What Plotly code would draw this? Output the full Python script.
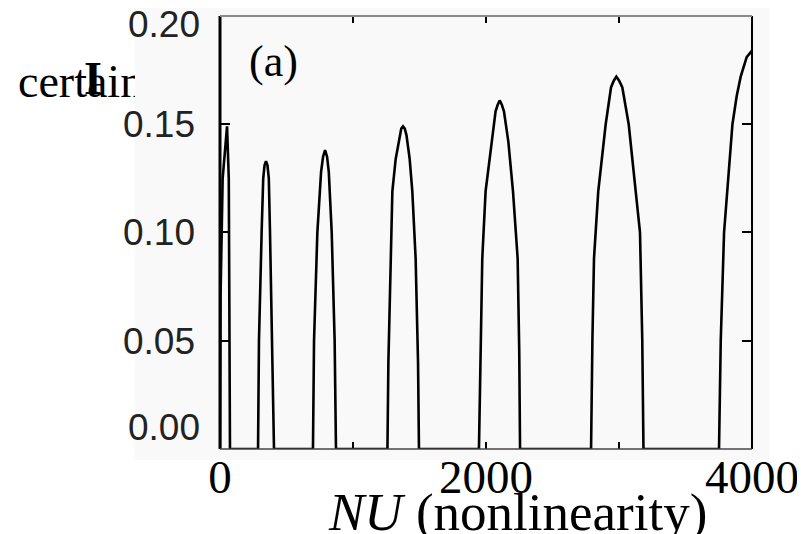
import plotly.graph_objects as go

# ---- data ----
nu = [0, 4, 20, 53, 66, 72, 75,
      286, 293, 313, 325, 335, 346, 357, 367, 376, 393, 406,
      699, 707, 732, 760, 775, 790, 805, 818, 840, 862, 872,
      1259, 1266, 1283, 1296, 1321, 1350, 1363, 1376, 1389, 1402, 1426, 1446, 1471, 1489, 1496,
      1947, 1960, 1972, 1997, 2042, 2072, 2088, 2103, 2119, 2135, 2168, 2203, 2238, 2250, 2256,
      2790, 2800, 2812, 2844, 2900, 2940, 2960, 2980, 3002, 3025, 3073, 3158, 3175, 3184,
      3752, 3765, 3790, 3853, 3885, 3915, 3960, 4000]
amp = [0.0, 0.07, 0.125, 0.149, 0.125, 0.07, 0.0,
       0.0, 0.05, 0.10, 0.125, 0.131, 0.133, 0.131, 0.125, 0.10, 0.05, 0.0,
       0.0, 0.05, 0.10, 0.128, 0.135, 0.138, 0.135, 0.128, 0.10, 0.05, 0.0,
       0.0, 0.04, 0.088, 0.119, 0.134, 0.145, 0.148, 0.149, 0.148, 0.145, 0.134, 0.119, 0.088, 0.04, 0.0,
       0.0, 0.05, 0.088, 0.119, 0.142, 0.156, 0.159, 0.161, 0.159, 0.156, 0.142, 0.119, 0.088, 0.045, 0.0,
       0.0, 0.05, 0.088, 0.119, 0.150, 0.167, 0.170, 0.172, 0.170, 0.167, 0.150, 0.10, 0.05, 0.0,
       0.0, 0.05, 0.10, 0.15, 0.163, 0.172, 0.181, 0.184]

x_ticks = [0, 1000, 2000, 3000, 4000]
x_tick_labels = ["0", "", "2000", "", "4000"]
y_ticks = [0.0, 0.05, 0.10, 0.15, 0.20]
y_tick_labels = ["0.00", "0.05", "0.10", "0.15", "0.20"]
x_title = "<i>NU</i> (nonlinearity)"
panel_label = "(a)"
side_text = "certain"
side_mark = "<b>I</b>"

PANEL = "#f9f9f9"
SERIF = "Liberation Serif"
SANS = "Liberation Sans"

fig = go.Figure()
fig.add_trace(go.Scatter(
    x=nu, y=amp, mode="lines",
    line=dict(color="black", width=2.6),
    hoverinfo="skip", showlegend=False))
# word lying partly under the scanned panel (small helper subplot in the left margin)
fig.add_trace(go.Scatter(
    x=[10], y=[29.5], mode="text", text=[side_text],
    textposition="middle right", cliponaxis=False,
    textfont=dict(family=SERIF, size=46, color="black"),
    xaxis="x2", yaxis="y2", hoverinfo="skip", showlegend=False))

ylab_font = dict(family=SANS, size=37, color="#222")
mid_labels = [t if 0 < i < len(y_tick_labels) - 1 else "" for i, t in enumerate(y_tick_labels)]

fig.update_layout(
    width=805, height=534,
    margin=dict(l=0, r=0, t=0, b=0),
    paper_bgcolor="white", plot_bgcolor="rgba(0,0,0,0)",
    showlegend=False,
    xaxis=dict(domain=[0.26335, 0.92422], range=[0, 4000],
               tickvals=x_ticks, ticktext=x_tick_labels,
               ticks="inside", ticklen=7, tickwidth=1.5, tickcolor="black",
               mirror="ticks", showline=False, showgrid=False, zeroline=False,
               tickfont=dict(family=SERIF, size=47, color="black"),
               ticklabelstandoff=-4, automargin=False),
    yaxis=dict(domain=[0.17416, 0.98502], range=[0, 0.2],
               tickvals=y_ticks, ticktext=mid_labels,
               ticks="inside", ticklen=10, tickwidth=1.5, tickcolor="black",
               mirror="ticks", showline=False, showgrid=False, zeroline=False,
               tickfont=ylab_font, ticklabelstandoff=24, automargin=False),
    xaxis2=dict(domain=[0, 0.15776], range=[0, 127], anchor="y2", visible=False),
    yaxis2=dict(domain=[0.8, 1.0], range=[0, 106.8], anchor="x2", visible=False),
    shapes=[
        dict(type="rect", xref="paper", yref="paper", x0=0.15776, x1=0.94534,
             y0=0.15356, y1=1.0, fillcolor=PANEL, line=dict(width=0), layer="below"),
        dict(type="rect", xref="paper", yref="paper", x0=0.15776, x1=0.19379,
             y0=0.81273, y1=0.90824, fillcolor=PANEL, line=dict(width=0), layer="above"),
        dict(type="line", xref="x domain", yref="y domain", x0=0, x1=0, y0=0, y1=1,
             line=dict(color="black", width=3), layer="above"),
        dict(type="line", xref="x domain", yref="y domain", x0=1, x1=1, y0=0, y1=1,
             line=dict(color="black", width=2), layer="above"),
        dict(type="line", xref="x domain", yref="y domain", x0=0, x1=1, y0=1, y1=1,
             line=dict(color="#8a8a8a", width=2), layer="above"),
        dict(type="line", xref="x domain", yref="y domain", x0=0, x1=1, y0=0, y1=0,
             line=dict(color="#444", width=1.5), layer="above"),
    ],
    annotations=[
        dict(text=y_tick_labels[-1], x=0.2410, y=0.9682, xref="paper", yref="paper",
             xanchor="right", yanchor="middle", showarrow=False, font=ylab_font),
        dict(text=y_tick_labels[0], x=0.2410, y=0.2135, xref="paper", yref="paper",
             xanchor="right", yanchor="middle", showarrow=False, font=ylab_font),
        dict(text=panel_label, x=0.3304, y=0.9007, xref="paper", yref="paper",
             xanchor="center", yanchor="middle", showarrow=False,
             font=dict(family=SERIF, size=44, color="black")),
        dict(text=side_mark, x=0.1056, y=0.8689, xref="paper", yref="paper",
             xanchor="center", yanchor="middle", showarrow=False,
             font=dict(family=SERIF, size=46, color="black")),
        dict(text=x_title, x=0.3949, y=0.056, xref="paper", yref="paper",
             xanchor="left", yanchor="middle", showarrow=False,
             font=dict(family=SERIF, size=53, color="black")),
    ],
)

fig.write_html("out.html")
